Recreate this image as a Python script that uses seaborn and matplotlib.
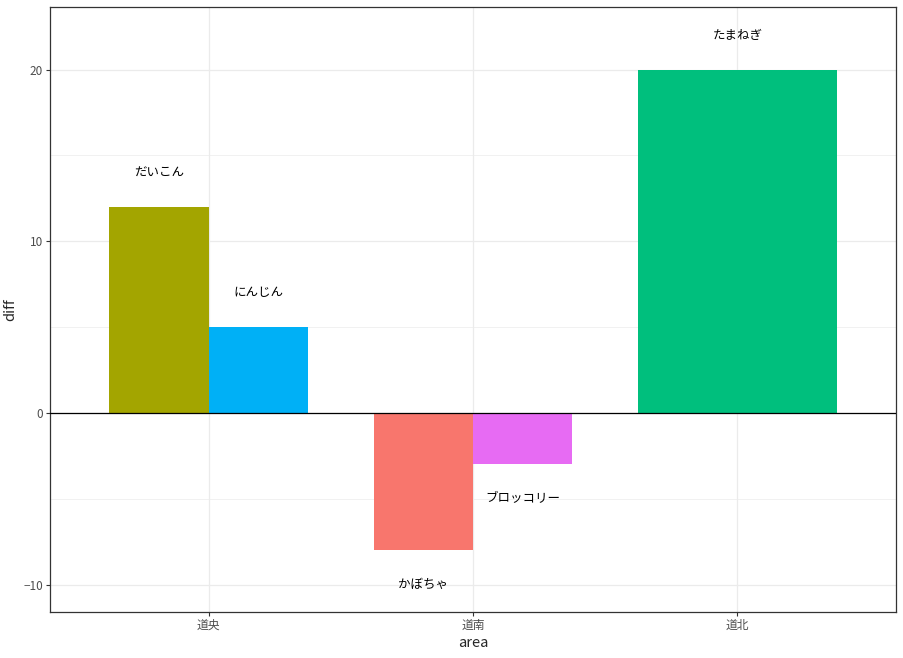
import numpy as np
import pandas as pd
import matplotlib
matplotlib.use("Agg")
import matplotlib.pyplot as plt
import seaborn as sns

# Data
areas = ["道央", "道南", "道北"]
vegetables = ["だいこん", "にんじん", "かぼちゃ", "ブロッコリー", "たまねぎ"]
veg_area = ["道央", "道央", "道南", "道南", "道北"]
diffs = [12, 5, -8, -3, 20]
veg_order = ["かぼちゃ", "だいこん", "たまねぎ", "にんじん", "ブロッコリー"]
palette = ["#F8766D", "#A3A500", "#00BF7D", "#00B0F6", "#E76BF3"]

df = pd.DataFrame({"area": veg_area, "veg": vegetables, "diff": diffs})

sns.set_theme(style="whitegrid")
plt.rcParams["font.family"] = ["Noto Sans CJK JP", "DejaVu Sans"]

fig = plt.figure(figsize=(9.04, 6.58), dpi=100)
ax = fig.add_axes([50 / 904, 1 - 612 / 658, 846 / 904, 605 / 658])

# dodge position like ggplot position_dodge
total_w = 0.75
colors = dict(zip(veg_order, palette))
for i, a in enumerate(areas):
    sub = df[df["area"] == a].copy()
    sub["order"] = sub["veg"].map(veg_order.index)
    sub = sub.sort_values("order")
    n = len(sub)
    w = total_w / n
    for j, (_, r) in enumerate(sub.iterrows()):
        x = i - total_w / 2 + w * (j + 0.5)
        ax.bar(x, r["diff"], width=w, color=colors[r["veg"]], linewidth=0,
               edgecolor="none", zorder=2)
        ty = r["diff"] + (2 if r["diff"] >= 0 else -2)
        ax.text(x, ty, r["veg"], ha="center", va="center", fontsize=9,
                color="black", zorder=3)

ax.axhline(0, color="black", lw=0.9, zorder=3)

ax.set_xlim(-0.6, len(areas) - 1 + 0.6)
ax.set_ylim(-11.6, 23.65)
ax.set_xticks(range(len(areas)))
ax.set_xticklabels(areas)
ax.set_yticks([-10, 0, 10, 20])
ax.set_yticks([-5, 5, 15], minor=True)
ax.set_xlabel("area", fontsize=10.5, labelpad=3)
ax.set_ylabel("diff", fontsize=10.5, labelpad=4)

ax.grid(True, which="major", color="#EBEBEB", lw=0.9)
ax.grid(True, which="minor", axis="y", color="#EBEBEB", lw=0.5)
ax.set_axisbelow(True)
ax.tick_params(axis="both", which="major", labelsize=8.5, labelcolor="#4D4D4D",
               length=3, color="#333333", width=0.8, pad=2, bottom=True, left=True)
ax.tick_params(axis="both", which="minor", length=0)
for s in ax.spines.values():
    s.set_visible(True)
    s.set_color("#333333")
    s.set_linewidth(0.9)
ax.set_facecolor("white")

fig.savefig("out.png", dpi=100)
